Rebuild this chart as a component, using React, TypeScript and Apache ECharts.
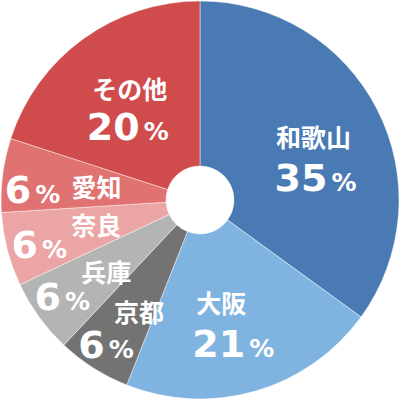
import React, { useEffect, useRef } from 'react';
import * as echarts from 'echarts';

const names = ['和歌山', '大阪', '京都', '兵庫', '奈良', '愛知', 'その他'];
const shares = [35, 21, 6, 6, 6, 6, 20];
const colors = ['#4a7ab3', '#7fb3e0', '#737373', '#b3b4b4', '#eba5a5', '#e07272', '#d04b4b'];

// label nudges from the default "inside" anchor
const nameShift = [
  [7, -10], [-12, -13], [3, 10], [3, 1], [12, -6], [15, 1], [0, -15],
];
const pctShift = [
  [9, 32], [0, 29], [-30, 44], [-41, 27], [-45, 15], [-49, 5], [-2, 24],
];

export default function App() {
  const chartRef = useRef<HTMLDivElement>(null);

  useEffect(() => {
    if (!chartRef.current) return;
    const chart = echarts.init(chartRef.current, undefined, { renderer: 'svg' });

    const pieBase = {
      type: 'pie' as const,
      center: [200, 200],
      radius: [34, 199],
      startAngle: 90,
      clockwise: true,
      avoidLabelOverlap: false,
      labelLine: { show: false },
      emphasis: { disabled: true },
    };

    chart.setOption({
      animation: false,
      series: [
        {
          ...pieBase,
          itemStyle: { borderColor: 'rgba(255,255,255,0.45)', borderWidth: 1 },
          data: names.map((n, i) => ({ name: n, value: shares[i], itemStyle: { color: colors[i] } })),
          label: {
            show: true,
            position: 'inside',
            rotate: 0,
            formatter: '{b}',
            color: '#fff',
            fontFamily: 'Noto Sans CJK JP',
            fontWeight: 'bold',
            fontSize: 25,
            lineHeight: 26,
          },
          labelLayout: (p: any) => ({ dx: nameShift[p.dataIndex][0], dy: nameShift[p.dataIndex][1] }),
        },
        {
          ...pieBase,
          silent: true,
          itemStyle: { color: 'rgba(0,0,0,0)', borderWidth: 0 },
          data: names.map((n, i) => ({ name: n, value: shares[i] })),
          label: {
            show: true,
            position: 'inside',
            rotate: 0,
            formatter: (p: any) => `{p|${p.value}}{u|%}`,
            rich: {
              p: {
                color: '#fff',
                fontFamily: 'DejaVu Sans',
                fontWeight: 'bold',
                fontSize: 38,
                lineHeight: 38,
                verticalAlign: 'bottom',
              },
              u: {
                color: '#fff',
                fontFamily: 'DejaVu Sans',
                fontWeight: 'bold',
                fontSize: 25,
                lineHeight: 38,
                verticalAlign: 'bottom',
                padding: [0, 0, 2, 4],
              },
            },
          },
          labelLayout: (p: any) => ({ dx: pctShift[p.dataIndex][0], dy: pctShift[p.dataIndex][1] }),
        },
      ],
    });

    return () => {
      chart.dispose();
    };
  }, []);

  return (
    <div
      ref={chartRef}
      style={{ position: 'absolute', left: 0, top: 0, width: '400px', height: '400px' }}
    />
  );
}
